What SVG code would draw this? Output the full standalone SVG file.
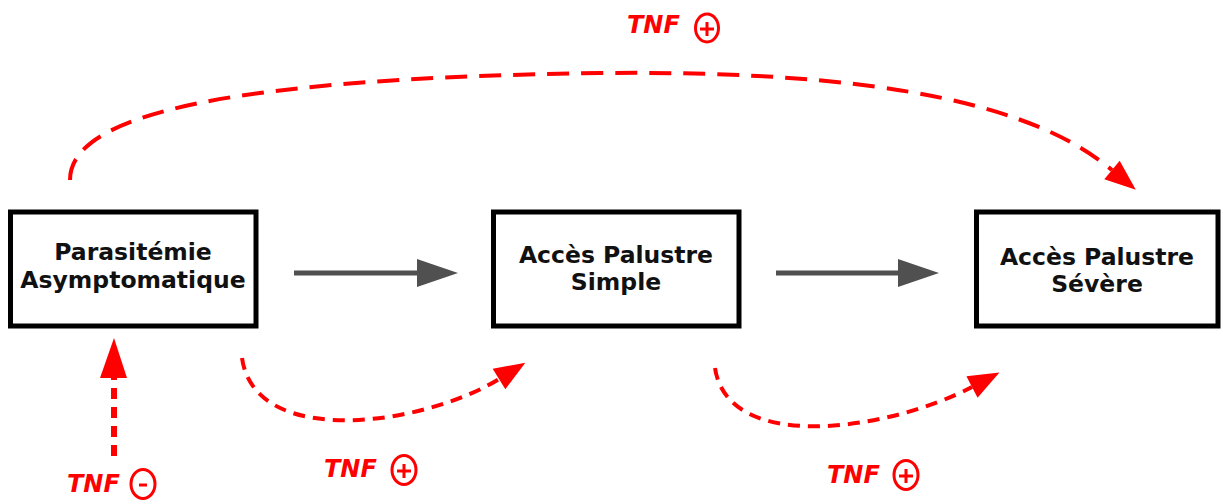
<svg xmlns="http://www.w3.org/2000/svg" width="1223" height="504" viewBox="0 0 1223 504">
<style>
.box{fill:#fff;stroke:#000;stroke-width:5}
.lbl{font-family:"DejaVu Sans",sans-serif;font-weight:bold;font-size:23.5px;fill:#111;text-anchor:middle}
.tnf{font-family:"DejaVu Sans",sans-serif;font-weight:bold;font-style:italic;font-size:24px;fill:#f00}
.sym{fill:none;stroke:#f00;stroke-width:3}
.red{fill:none;stroke:#f00;stroke-width:4;stroke-dasharray:22 12}
.reds{fill:none;stroke:#f00;stroke-width:4;stroke-dasharray:12 8}
.gray{stroke:#505050;stroke-width:5}
</style>
<defs>
<marker id="rh" markerUnits="userSpaceOnUse" markerWidth="32" markerHeight="26" refX="0" refY="12" orient="auto" overflow="visible">
<path d="M0,0 L31,12 L0,24 z" fill="#f00"/>
</marker>
</defs>
<rect width="1223" height="504" fill="#fff"/>
<g id="connectors">
<line class="gray" x1="294" y1="273" x2="420" y2="273"/>
<polygon points="417,259 458,273 417,287" fill="#505050"/>
<line class="gray" x1="776" y1="273" x2="900" y2="273"/>
<polygon points="898,259 939,273 898,287" fill="#505050"/>
<path class="red" d="M70,180 C70,110 250,78 600,73 C900,70 1040,110 1112,170" marker-end="url(#rh)"/>
<path class="reds" d="M242,358 C255,450 425,425 499,379" marker-end="url(#rh)"/>
<path class="reds" d="M715,368 C728,455 890,430 972,387" marker-end="url(#rh)"/>
<line x1="114" y1="456" x2="114" y2="378" stroke="#f00" stroke-width="6" stroke-dasharray="11 8"/>
<polygon points="100,378 114,338 127,378" fill="#f00"/>
</g>
<g id="node1">
<rect class="box" x="10.5" y="212" width="245.5" height="114"/>
<text class="lbl" x="133" y="260">Parasitémie</text>
<text class="lbl" x="133" y="288">Asymptomatique</text>
</g>
<g id="node2">
<rect class="box" x="493.5" y="212" width="245.5" height="114"/>
<text class="lbl" x="616" y="263">Accès Palustre</text>
<text class="lbl" x="616" y="290">Simple</text>
</g>
<g id="node3">
<rect class="box" x="976.5" y="212" width="241.5" height="114"/>
<text class="lbl" x="1097" y="265">Accès Palustre</text>
<text class="lbl" x="1097" y="292">Sévère</text>
</g>
<g id="label-top">
<text class="tnf" x="627" y="33">TNF</text>
<ellipse class="sym" cx="707" cy="28" rx="11.5" ry="14"/>
<path class="sym" d="M700,29 H714 M707,22 V36" stroke-width="2.5"/>
</g>
<g id="label-left">
<text class="tnf" x="67" y="492">TNF</text>
<ellipse class="sym" cx="143" cy="484" rx="12" ry="14.5"/>
<path class="sym" d="M139,485 H147" stroke-width="2.5"/>
</g>
<g id="label-mid">
<text class="tnf" x="324" y="477">TNF</text>
<ellipse class="sym" cx="404" cy="470" rx="12" ry="14.5"/>
<path class="sym" d="M397,471 H411 M404,464 V478" stroke-width="2.5"/>
</g>
<g id="label-right">
<text class="tnf" x="827" y="483">TNF</text>
<ellipse class="sym" cx="906" cy="475" rx="12" ry="14.5"/>
<path class="sym" d="M899,476 H913 M906,469 V483" stroke-width="2.5"/>
</g>
</svg>
